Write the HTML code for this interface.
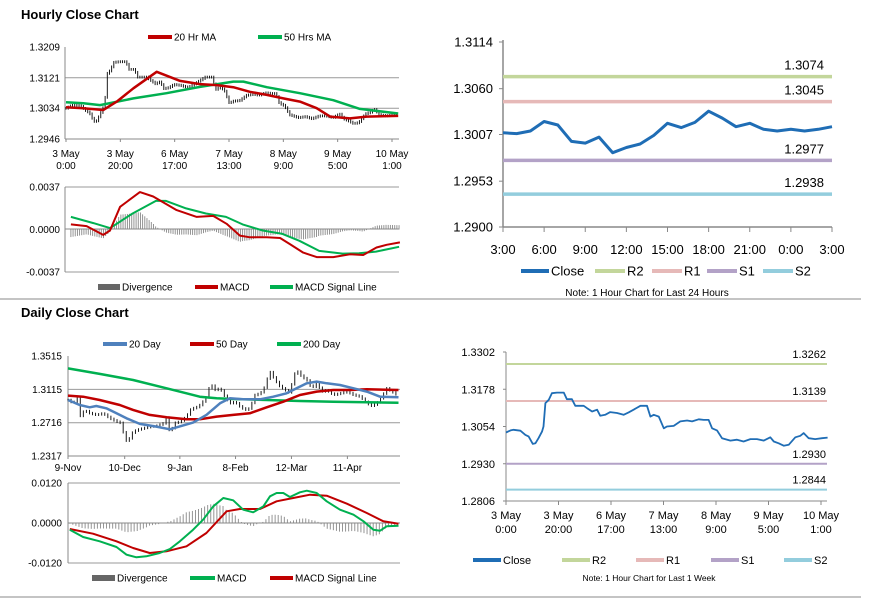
<!DOCTYPE html>
<html><head><meta charset="utf-8"><style>
html,body{margin:0;padding:0;background:#fff;width:873px;height:601px;overflow:hidden}
svg{display:block;font-family:"Liberation Sans",sans-serif}
</style></head><body>
<svg id="s" width="873" height="601" viewBox="0 0 873 601">
<line x1="0" y1="299" x2="861" y2="299" stroke="#888"/>
<line x1="0" y1="597" x2="861" y2="597" stroke="#888"/>
<text x="21" y="19" font-size="13" font-weight="bold">Hourly Close Chart</text>
<text x="21" y="317" font-size="13" font-weight="bold">Daily Close Chart</text>
</svg>
<script>
// ===== Hourly week close (hours index, value) =====
const wkHours=[0,1.7,2.9,5.5,7.4,8.6,10.2,11.2,12.4,13.7,14.3,15,16.3,17.5,19.4,22,23.2,25.1,26.4,29.6,30.9,32.8,34.7,35.9,37.8,39.7,42.3,44.8,46.7,48.6,51.2,53.7,55,56.3,58.2,60.1,61.3,63.9,66.4,69,70.9,73.4,75.3,77.2,78.5,80.4,82.3,85.5,88,90.5,93.1,95.6,98.2,100.7,102,103.9,105.8,107.7,110.2,112.1,113.4,115.3,117.8,120.4,122.5];
const wkClose=[1.3034,1.3041,1.3043,1.3040,1.3026,1.3021,1.2996,1.2998,1.3015,1.3037,1.3054,1.3132,1.3143,1.3165,1.3167,1.3167,1.3145,1.3145,1.3123,1.3123,1.3115,1.3104,1.3110,1.3090,1.3093,1.3102,1.3099,1.3093,1.3101,1.3110,1.3123,1.3123,1.3087,1.3093,1.3087,1.3048,1.3054,1.3056,1.3071,1.3074,1.3071,1.3078,1.3076,1.3076,1.3048,1.3041,1.3015,1.3007,1.3010,1.3004,1.3012,1.3012,1.3007,1.3018,1.3004,1.2998,1.2990,1.2993,1.3018,1.3023,1.3032,1.3015,1.3012,1.3015,1.3017];
const ma20Hours=[0,6.4,13.7,18.7,24.8,33.4,42,49.3,55.5,61.6,67.7,73.9,80,86.1,92.3,97.2,104.5,110.7,122.3];
const ma20Vals=[1.3037,1.3034,1.3029,1.3053,1.3091,1.3138,1.3112,1.3103,1.3100,1.3094,1.3081,1.3072,1.3062,1.3053,1.3034,1.3010,1.3005,1.3010,1.3012];
const ma50Hours=[0,6.4,12.5,24.8,37,49.3,61.6,65.3,73.9,86.1,98.4,108.2,122.3];
const ma50Vals=[1.3051,1.3048,1.3043,1.3062,1.3077,1.3095,1.3110,1.3110,1.3094,1.3077,1.3057,1.3032,1.3019];
const hMacdHours=[1.8,7.6,13.7,16.2,19.9,27.2,32.1,40.7,48.1,54.2,59.1,64,67.7,73.9,78.8,82.4,87.3,92.3,98.4,104.5,109.4,114.3,118,122.9];
const hMacdVals=[0.00044,0.0003,-0.00047,-0.00009,0.00198,0.00326,0.00287,0.00169,0.0011,0.00118,0.0005,-0.00053,-0.00068,-0.00068,-0.00074,-0.00127,-0.00201,-0.0024,-0.0024,-0.00216,-0.00222,-0.00157,-0.00133,-0.00112];
const hSigHours=[1.8,10.1,16.2,24.5,33.1,36.8,44.2,51.5,58.9,65,72.4,79.7,85.9,93.2,101.8,107.9,114.1,122.6];
const hSigVals=[0.0011,0.00056,0.00012,0.00139,0.00249,0.00249,0.00184,0.00139,0.0011,0.00044,-0.00009,-0.00038,-0.00098,-0.00186,-0.0021,-0.00207,-0.00192,-0.00151];
const hPriceTicks=["1.3209","1.3121","1.3034","1.2946"];
const hMacdTicks=["0.0037","0.0000","-0.0037"];
const hXLabels=[["3 May","0:00"],["3 May","20:00"],["6 May","17:00"],["7 May","13:00"],["8 May","9:00"],["9 May","5:00"],["10 May","1:00"]];
// ===== Daily =====
const dIdx=[0,2,3.9,4.6,6.5,8.5,11.1,13.7,16.3,19,20.9,22.2,23.5,24.8,26.8,29.4,32,34.6,37.3,38.6,40.1,41.2,43.8,46.4,47.7,49,51,52.3,54.2,55.8,57.5,59.5,61.4,63.4,65.4,67.3,69.3,71.2,73.2,75.2,76.5,77.8,79.1,81,83,85,86.9,88.2,89.5,91.5,93.5,95.4,97.4,99.3,101.3,103.9,106.5,109.2,111.8,114.4,117,119,120.9,122.9,124.8,126.8,129.4];
const dClose=[1.2988,1.2948,1.3028,1.2789,1.2869,1.2829,1.2809,1.2829,1.2769,1.2729,1.2709,1.2510,1.2490,1.2589,1.2629,1.2649,1.2669,1.2677,1.2709,1.2789,1.2549,1.2709,1.2729,1.2789,1.2869,1.2889,1.2909,1.2948,1.3028,1.3188,1.3108,1.3128,1.3028,1.2948,1.2968,1.2909,1.2869,1.2889,1.3048,1.3068,1.3108,1.3228,1.3327,1.3228,1.3148,1.3108,1.3068,1.3268,1.3347,1.3268,1.3228,1.3128,1.3188,1.3088,1.3108,1.3048,1.3068,1.3088,1.3048,1.3028,1.2948,1.2916,1.2948,1.3028,1.3128,1.3088,1.3036];
const d20Idx=[0,4.6,8.5,11.1,15,19,22.9,28.1,34.6,39.9,44.4,49,54.2,59.5,63.4,68.6,75.2,80.4,85.6,89.5,93.5,97.4,101.3,106.5,111.8,117,122.2,129.4];
const d20Vals=[1.2988,1.2928,1.2901,1.2916,1.2889,1.2829,1.2769,1.2701,1.2669,1.2637,1.2677,1.2717,1.2809,1.2948,1.3008,1.2996,1.2996,1.3028,1.3068,1.3128,1.3188,1.3208,1.3188,1.3168,1.3128,1.3088,1.3028,1.3020];
const d50Idx=[0,5.9,12.4,20.3,25.5,32,38.6,46.4,51.6,58.2,64.7,71.2,77.8,84.3,90.8,97.4,103.9,110.5,117,129.4];
const d50Vals=[1.3040,1.3028,1.2988,1.2928,1.2869,1.2809,1.2781,1.2757,1.2757,1.2789,1.2809,1.2829,1.2901,1.2968,1.3048,1.3088,1.3108,1.3108,1.3116,1.3108];
const d200Idx=[0,12.4,25.5,38.6,46.4,51.6,58.2,64.7,77.8,90.8,103.9,117,129.4];
const d200Vals=[1.3367,1.3300,1.3228,1.3128,1.3068,1.3028,1.3008,1.3000,1.2988,1.2976,1.2968,1.2960,1.2956];
const dMacdIdx=[0.7,5.9,12.4,19,22.9,26.8,30.7,35.9,39.9,43.8,49,52.9,56.9,60.8,64.7,68.6,72.5,76.5,79.1,81.7,84.3,86.9,90.8,93.5,97.4,101.3,106.5,111.8,115.7,119.6,122.2,124.8,129.4];
const dMacdVals=[-0.002,-0.0042,-0.0055,-0.0072,-0.0095,-0.0103,-0.0100,-0.009,-0.0078,-0.0055,-0.002,0.001,0.005,0.0075,0.0068,0.004,0.0032,0.005,0.008,0.009,0.009,0.0078,0.0092,0.0097,0.009,0.0065,0.004,0.0025,0.0005,-0.002,-0.0023,-0.001,-0.0008];
const dSigIdx=[0.7,9.8,19,25.5,32,38.6,46.4,54.2,62.1,67.3,75.2,81.7,88.2,94.8,101.3,109.2,117,123.5,129.4];
const dSigVals=[-0.0018,-0.0032,-0.0055,-0.0075,-0.009,-0.0085,-0.007,-0.003,0.0035,0.0042,0.0042,0.0065,0.0075,0.0085,0.0082,0.0058,0.003,0.0005,-0.0002];
const dPriceTicks=["1.3515","1.3115","1.2716","1.2317"];
const dMacdTicks=["0.0120","0.0000","-0.0120"];
const dXLabels=["9-Nov","10-Dec","9-Jan","8-Feb","12-Mar","11-Apr"];
const dXIdx=[0,22.2,43.8,65.6,87.5,109.4];
// ===== 24h pivot chart =====
const dayHours=["3:00","6:00","9:00","12:00","15:00","18:00","21:00","0:00","3:00"];
const dayClose=[1.3009,1.3008,1.3011,1.3022,1.3018,1.2999,1.2997,1.3004,1.2986,1.2992,1.2996,1.3006,1.3020,1.3015,1.3021,1.3034,1.3026,1.3016,1.3020,1.3013,1.3011,1.3013,1.3011,1.3013,1.3016];
const dayTicks=["1.3114","1.3060","1.3007","1.2953","1.2900"];
const dayLevelNames=["R2","R1","S1","S2"];
const dayLevels=[1.3074,1.3045,1.2977,1.2938];
// ===== week pivot chart =====
const wkTicks=["1.3302","1.3178","1.3054","1.2930","1.2806"];
const wkLevels=[1.3262,1.3139,1.2930,1.2844];

const levelColors=["#c3d69b","#e6b9b8","#b3a2c7","#93cddd"];
const S=document.getElementById('s');
const NS="http://www.w3.org/2000/svg";
function mk(tag,attrs,txt){const e=document.createElementNS(NS,tag);for(const k in attrs)e.setAttribute(k,attrs[k]);if(txt!==undefined)e.textContent=txt;S.appendChild(e);return e;}
function lin(d0,d1,r0,r1){return v=>r0+(v-d0)/(d1-d0)*(r1-r0);}
function interp(xs,ys,x){if(x<=xs[0])return ys[0];for(let i=1;i<xs.length;i++){if(x<=xs[i]){const t=(x-xs[i-1])/(xs[i]-xs[i-1]);return ys[i-1]+t*(ys[i]-ys[i-1]);}}return ys[ys.length-1];}
function path(xs,ys,fx,fy,color,w,name){let d="";for(let i=0;i<xs.length;i++)d+=(i?"L":"M")+fx(xs[i]).toFixed(1)+","+fy(ys[i]).toFixed(1);const e=mk('path',{d:d,fill:"none",stroke:color,"stroke-width":w,"stroke-linejoin":"round"});


return e;}
function txt(x,y,s,size,anchor,name,color){const e=mk('text',{x:x,y:y,"font-size":size,"text-anchor":anchor||"start",fill:color||"#000"},s);


return e;}
function ln(x1,y1,x2,y2,c,w,name){const e=mk('line',{x1:x1,y1:y1,x2:x2,y2:y2,stroke:c,"stroke-width":w});


return e;}
function legend(x,y,w,color,label,size,name,box){if(box){const r=mk('rect',{x:x,y:y-3,width:w,height:6,fill:color});}else ln(x,y,x+w,y,color,4,name+'-swatch');txt(x+w+2,y+size*0.36,label,size,"start",name+'-label');}

// ---- Hourly price ----
(function(){
 const x0=65,x1=399,fx=lin(0,120,66,392),fy=lin(1.3209,1.2946,47,139);
 hPriceTicks.forEach((t,i)=>{const y=fy(parseFloat(t));txt(60,y+3.5,t,10,"end","hourly-y-tick");if(i>0&&i<3)ln(x0,y,x1,y,"#999",1,"hourly-gridline");});
 ln(x0,47,x0,139,"#888",1,"hourly-y-axis");ln(x0,139,x1,139,"#888",1,"hourly-x-axis");
 hXLabels.forEach((l,i)=>{const x=fx(i*20);ln(x,139,x,142,"#888",1,"hourly-x-tick");txt(x,157,l[0],10,"middle","hourly-x-label");txt(x,169,l[1],10,"middle","hourly-x-label");});
 for(let h=0;h<=122;h+=0.8){const c=interp(wkHours,wkClose,h),p=interp(wkHours,wkClose,h-0.8);const hi=Math.max(c,p)+0.0004,lo=Math.min(c,p)-0.0004;const x=fx(h);
  const e=mk('line',{x1:x,y1:fy(hi),x2:x,y2:fy(lo),stroke:"#000","stroke-width":0.9});
  
  }
 path(ma50Hours,ma50Vals,fx,fy,"#00b050",2.5,"hourly-50hr-ma-line");
 path(ma20Hours,ma20Vals,fx,fy,"#c00000",2.5,"hourly-20hr-ma-line");
 legend(148,37,24,"#c00000","20 Hr MA",10,"legend-20hr-ma");legend(258,37,24,"#00b050","50 Hrs MA",10,"legend-50hr-ma");
 // MACD
 const fm=lin(0.0037,-0.0037,187,272);
 hMacdTicks.forEach((t,i)=>{const y=fm(parseFloat(t));txt(60,y+3.5,t,10,"end","hourly-macd-y-tick");if(i==0||i==2)ln(x0,y,x1,y,"#999",1,"hourly-macd-gridline");});
 ln(x0,187,x0,272,"#888",1,"hourly-macd-y-axis");ln(x0,229,x1,229,"#888",1,"hourly-macd-zero");
 for(let h=1.8;h<=122.6;h+=0.8){const dv=interp(hMacdHours,hMacdVals,h)-interp(hSigHours,hSigVals,h);const x=fx(h);
  const e=mk('line',{x1:x,y1:fm(0),x2:x,y2:fm(dv),stroke:"#888","stroke-width":0.9});
  
  }
 path(hSigHours,hSigVals,fx,fm,"#00b050",2,"hourly-macd-signal-line");
 path(hMacdHours,hMacdVals,fx,fm,"#c00000",2,"hourly-macd-line");
 legend(98,287,22,"#666","Divergence",10,"legend-hourly-divergence",true);legend(195,287,23,"#c00000","MACD",10,"legend-hourly-macd");legend(270,287,23,"#00b050","MACD Signal Line",10,"legend-hourly-signal");
})();

// ---- Daily ----
(function(){
 const x0=68,x1=400,fx=lin(0,130,68,400),fy=lin(1.3515,1.2317,356,456);
 dPriceTicks.forEach((t,i)=>{const y=fy(parseFloat(t));txt(62,y+3.5,t,10,"end","daily-y-tick");if(i>0&&i<3)ln(x0,y,x1,y,"#999",1,"daily-gridline");});
 ln(x0,356,x0,456,"#888",1,"daily-y-axis");ln(x0,456,x1,456,"#888",1,"daily-x-axis");
 dXLabels.forEach((l,i)=>{const x=fx(dXIdx[i]);ln(x,456,x,459,"#888",1,"daily-x-tick");txt(x,471,l,10,"middle","daily-x-label");});
 for(let d=0;d<=129.4;d+=1.2){const c=interp(dIdx,dClose,d),p=interp(dIdx,dClose,d-1.2);const hi=Math.max(c,p)+0.0015,lo=Math.min(c,p)-0.0015;const x=fx(d);
  const e=mk('line',{x1:x,y1:fy(hi),x2:x,y2:fy(lo),stroke:"#000","stroke-width":0.9});
  
  }
 path(d200Idx,d200Vals,fx,fy,"#00b050",2.5,"daily-200day-ma-line");
 path(d50Idx,d50Vals,fx,fy,"#c00000",2.5,"daily-50day-ma-line");
 path(d20Idx,d20Vals,fx,fy,"#4f81bd",2.5,"daily-20day-ma-line");
 legend(103,344,24,"#4f81bd","20 Day",10,"legend-20day");legend(190,344,24,"#c00000","50 Day",10,"legend-50day");legend(277,344,24,"#00b050","200 Day",10,"legend-200day");
 const fm=lin(0.012,-0.012,483,563);
 dMacdTicks.forEach((t,i)=>{const y=fm(parseFloat(t));txt(62,y+3.5,t,10,"end","daily-macd-y-tick");if(i==0||i==2)ln(x0,y,x1,y,"#999",1,"daily-macd-gridline");});
 ln(x0,483,x0,563,"#888",1,"daily-macd-y-axis");ln(x0,523,x1,523,"#888",1,"daily-macd-zero");
 for(let d=0.7;d<=129.4;d+=1.2){const dv=(interp(dMacdIdx,dMacdVals,d)-interp(dSigIdx,dSigVals,d));const x=fx(d);
  const e=mk('line',{x1:x,y1:fm(0),x2:x,y2:fm(dv),stroke:"#888","stroke-width":0.9});
  
  }
 path(dSigIdx,dSigVals,fx,fm,"#c00000",2,"daily-macd-signal-line");
 path(dMacdIdx,dMacdVals,fx,fm,"#00b050",2,"daily-macd-line");
 legend(92,578,23,"#666","Divergence",10,"legend-daily-divergence",true);legend(190,578,25,"#00b050","MACD",10,"legend-daily-macd");legend(270,578,23,"#c00000","MACD Signal Line",10,"legend-daily-signal");
})();

// ---- 24h pivot ----
(function(){
 const x0=503,x1=832,fx=lin(0,24,x0,x1),fy=lin(1.3114,1.2900,42,227);
 dayTicks.forEach(t=>{const y=fy(parseFloat(t));txt(493,y+4.5,t,13,"end","day-y-tick");ln(x0-4,y,x0,y,"#888",1,"day-y-tickmark");});
 ln(x0,40,x0,227,"#888",1.5,"day-y-axis");ln(x0,227,x1,227,"#888",1.5,"day-x-axis");
 dayHours.forEach((h,i)=>{const x=fx(i*3);ln(x,227,x,232,"#888",1,"day-x-tickmark");txt(x,254,h,13,"middle","day-x-label");});
 dayLevels.forEach((v,i)=>{const y=fy(v);ln(x0,y,x1,y,levelColors[i],3.5,"day-"+dayLevelNames[i].toLowerCase()+"-line");txt(824,y-7,v.toFixed(4),13,"end","day-"+dayLevelNames[i].toLowerCase()+"-value");});
 path(dayClose.map((v,i)=>i),dayClose,fx,fy,"#1f6db5",3,"day-close-line");
 legend(521,271,28,"#1f6db5","Close",13,"legend-day-close");
 const lx=[595,652,707,763];dayLevelNames.forEach((n,i)=>legend(lx[i],271,30,levelColors[i],n,13,"legend-day-"+n.toLowerCase()));
 txt(647,296,"Note: 1 Hour Chart for Last 24 Hours",10,"middle","day-note");
})();

// ---- week pivot ----
(function(){
 const x0=506,x1=827,fx=lin(0,120,506,821),fy=lin(1.3302,1.2806,352,501);
 wkTicks.forEach(t=>{const y=fy(parseFloat(t));txt(495,y+4,t,11,"end","week-y-tick");ln(x0-3,y,x0,y,"#888",1,"week-y-tickmark");});
 ln(x0,352,x0,501,"#888",1,"week-y-axis");ln(x0,501,x1,501,"#888",1,"week-x-axis");
 hXLabels.forEach((l,i)=>{const x=fx(i*20);ln(x,501,x,505,"#888",1,"week-x-tickmark");txt(x,519,l[0],11,"middle","week-x-label");txt(x,533,l[1],11,"middle","week-x-label");});
 wkLevels.forEach((v,i)=>{const y=fy(v);ln(x0,y,x1,y,levelColors[i],2,"week-"+dayLevelNames[i].toLowerCase()+"-line");txt(826,y-6,v.toFixed(4),11,"end","week-"+dayLevelNames[i].toLowerCase()+"-value");});
 path(wkHours,wkClose,fx,fy,"#1f6db5",1.8,"week-close-line");
 legend(473,560,28,"#1f6db5","Close",11,"legend-week-close");
 const lx=[562,636,711,784];dayLevelNames.forEach((n,i)=>legend(lx[i],560,28,levelColors[i],n,11,"legend-week-"+n.toLowerCase()));
 txt(649,581,"Note: 1 Hour Chart for Last 1 Week",8.5,"middle","week-note");
})();
</script>
</body></html>
